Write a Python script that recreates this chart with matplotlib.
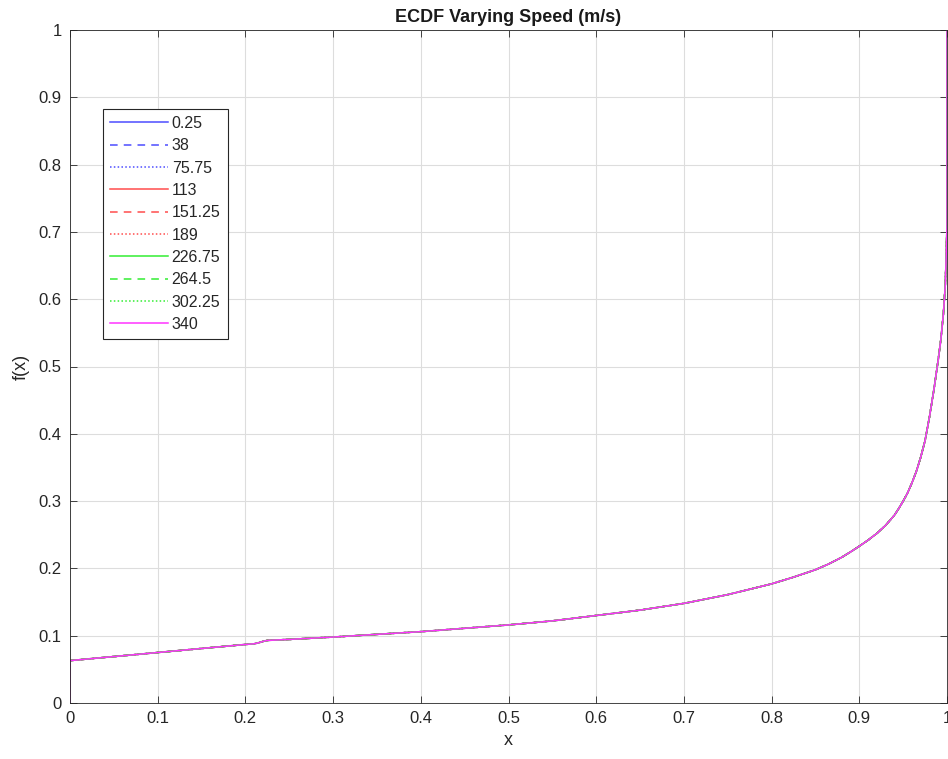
import matplotlib
matplotlib.use("Agg")
import matplotlib.pyplot as plt

# ---- data ----
speeds = ["0.25", "38", "75.75", "113", "151.25", "189", "226.75", "264.5", "302.25", "340"]
colors = ["#4d4dff", "#4d4dff", "#4d4dff", "#ff4d4d", "#ff4d4d", "#ff4d4d",
          "#33ee33", "#33ee33", "#33ee33", "#ff33ff"]
styles = ["-", (0, (5, 4)), (0, (1, 1.5)), "-", (0, (5, 4)), (0, (1, 1.5)),
          "-", (0, (5, 4)), (0, (1, 1.5)), "-"]

x_vals = [0.0, 0.0, 0.05, 0.1, 0.15, 0.2, 0.21, 0.215, 0.22, 0.225, 0.25, 0.3, 0.35, 0.4,
          0.45, 0.5, 0.55, 0.6, 0.65, 0.7, 0.75, 0.8, 0.825, 0.85, 0.865, 0.88, 0.89, 0.9,
          0.91, 0.92, 0.93, 0.94, 0.945, 0.95, 0.955, 0.96, 0.965, 0.97, 0.975, 0.98,
          0.985, 0.99, 0.993, 0.996, 0.998, 0.999, 1.0, 1.0]
f_vals = [0.0, 0.063, 0.069, 0.075, 0.081, 0.087, 0.088, 0.0895, 0.0915, 0.093, 0.0945,
          0.098, 0.102, 0.106, 0.111, 0.116, 0.122, 0.130, 0.138, 0.148, 0.161, 0.177,
          0.187, 0.198, 0.2065, 0.2165, 0.2245, 0.233, 0.242, 0.252, 0.264, 0.279, 0.289,
          0.300, 0.312, 0.327, 0.344, 0.365, 0.390, 0.425, 0.465, 0.510, 0.540, 0.580,
          0.620, 0.660, 0.710, 1.0]
series_y = {s: f_vals for s in speeds}

plt.rcParams['font.family'] = ['Liberation Sans', 'DejaVu Sans']

fig = plt.figure(figsize=(9.48, 7.59), dpi=100)
ax = fig.add_axes([70/948, 56/759, 877/948, 673/759])

for s, c, ls in zip(speeds, colors, styles):
    ax.plot(x_vals, series_y[s], color=c, linestyle=ls, lw=1.1, label=s)

ax.set_xlim(0, 1)
ax.set_ylim(0, 1)
ticks = [i / 10 for i in range(11)]
ax.set_xticks(ticks)
ax.set_yticks(ticks)
ax.set_xticklabels(["0"] + [f"{t:.1f}" for t in ticks[1:-1]] + ["1"])
ax.set_yticklabels(["0"] + [f"{t:.1f}" for t in ticks[1:-1]] + ["1"])
ax.tick_params(direction="in", length=5, width=0.6, labelsize=12, colors="#262626",
               top=True, right=True, pad=6)
ax.grid(True, color="#dddddd", lw=0.8)
ax.set_axisbelow(True)
for sp in ax.spines.values():
    sp.set_color("#262626")
    sp.set_linewidth(0.6)

ax.set_xlabel("x", fontsize=13, color="#262626", labelpad=4)
ax.set_ylabel("f(x)", fontsize=13, color="#262626", labelpad=6)
ax.set_title("ECDF Varying Speed (m/s)", fontsize=13, fontweight="bold", color="#1a1a1a", pad=6)

leg = ax.legend(loc="upper left", bbox_to_anchor=(0.0376, 0.883), fontsize=11.5,
                frameon=True, fancybox=False, edgecolor="#262626", framealpha=1,
                handlelength=3.6, handletextpad=0.25, labelspacing=0.46,
                borderpad=0.45, borderaxespad=0)
leg.get_frame().set_linewidth(0.8)
for t in leg.get_texts():
    t.set_color("#262626")

fig.savefig("out.png", dpi=100)
